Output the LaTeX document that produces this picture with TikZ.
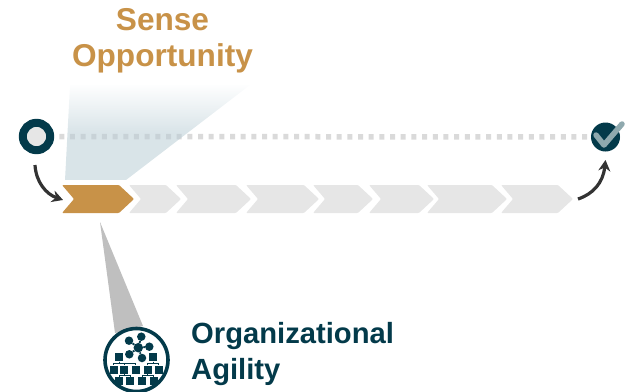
\documentclass[tikz,border=0pt]{standalone}
\usepackage{fontspec}
\setmainfont{Liberation Sans}
\usetikzlibrary{arrows.meta,fadings}
\definecolor{teal}{HTML}{033A4A}
\definecolor{gold}{HTML}{C89248}
\definecolor{stage}{HTML}{E6E6E6}
\definecolor{dots}{HTML}{DADADA}
\definecolor{wedge}{HTML}{B9CDD5}
\definecolor{tick}{HTML}{8FA9AE}
\definecolor{bend}{HTML}{333333}
\pgfdeclareverticalshading{wedgeramp}{100bp}{color(0bp)=(pgftransparent!0); color(50bp)=(pgftransparent!0); color(76bp)=(pgftransparent!100); color(100bp)=(pgftransparent!100)}
\pgfdeclarefading{wedgefade}{\pgfuseshading{wedgeramp}}
\begin{document}
\begin{tikzpicture}[x=1pt,y=-1pt,
		box/.style={draw=none,fill=teal,minimum size=8.3pt,inner sep=0pt},
		dot/.style={circle,fill=teal,minimum size=8.5pt,inner sep=0pt},
		link/.style={draw=teal,line width=1pt},
		bendarrow/.style={draw=bend,line width=3.2pt,-{Stealth[length=11pt,width=12pt]}},
		title/.style={font=\bfseries\fontsize{29.2}{36}\selectfont,text=teal,align=left,inner sep=0pt}]
	\useasboundingbox (0,0) rectangle (634,391);
	% pointers behind everything
	\node [circle,draw=teal,fill=stage,line width=8pt,minimum size=27.4pt,inner sep=0pt] (start) at (36.5,136.5) {};
	\node [circle,fill=teal,minimum size=29pt,inner sep=0pt] (end) at (605.5,137) {};
	\draw[dots,line width=5.5pt,dash pattern=on 5pt off 5.67pt,dash phase=5.57pt] (start) -- (end);
	\fill[wedge,opacity=.54,path fading=wedgefade] (65,180) -- (70,85) -- (250,85) -- (126,180) -- cycle;
	\fill[black!25] (100,222) -- (115,333) -- (143,326) -- cycle;
	\draw[tick,line width=5.5pt,line cap=round,line join=round] (596,135) -- (604,145) -- (622,124);
	% stages
	\fill[gold,rounded corners=1pt] (62,185) -- (119,185) -- (134,199) -- (119,213) -- (62,213) -- (74,199) -- cycle;
	\foreach \l/\s in {129/166,176/236,246/304,313/358,369/419,427/492,501/558}
		\fill[stage,rounded corners=1pt] (\l,185) -- (\s,185) -- (\s+15,199) -- (\s,213) -- (\l,213) -- (\l+12,199) -- cycle;
	\coordinate (first) at (63,200);
	\coordinate (last) at (578,199);
	\coordinate (up) at (605.5,160);
	\coordinate (down) at (35,165);
	\draw[bendarrow] (down) .. controls (36,182) and (46,194) .. (first);
	\draw[bendarrow] (last) .. controls (593,194) and (603,183) .. (up);
	% labels
	\node [font=\bfseries\fontsize{31.6}{36}\selectfont,text=gold,align=center,inner sep=0pt] (sense) at (162.5,40.5) {Sense\\Opportunity};
	\node [title,anchor=west] (agility) at (191,354.5) {Organizational\\Agility};
	% icon
	\node [circle,draw=teal,fill=white,line width=3.6pt,minimum size=63pt,inner sep=0pt] (icon) at (136.5,360) {};
	\node [dot,minimum size=9.5pt] (hub) at (138.3,347.7) {};
	\foreach \n/\x/\y in {a/129/340.7,b/141.3/336.7,c/149.3/346.7,d/142/358,e/129.3/354.3}{
		\node [dot] (\n) at (\x,\y) {};
		\draw[link,line width=1.8pt] (hub) -- (\n);
	}
	\foreach \n/\x/\y in {t1/119/357.3,t2/153.3/357.3,m1/113.7/369.7,m2/124.3/369.7,m3/135.7/369.7,m4/147.7/369.7,m5/158.7/369.7,b1/119/381,b2/130/381,b3/142/381,b4/153.7/381}
		\node [box] (\n) at (\x,\y) {};
	\foreach \p/\c in {t1/m1,t1/m2,t2/m4,t2/m5,m2/b1,m2/b2,m4/b3,m4/b4}
		\draw[link] (\p) -- ++(0,6.2) -| (\c);
	\draw[link] (t1) -- ++(0,6.2) -| (m3);
\end{tikzpicture}
\end{document}
